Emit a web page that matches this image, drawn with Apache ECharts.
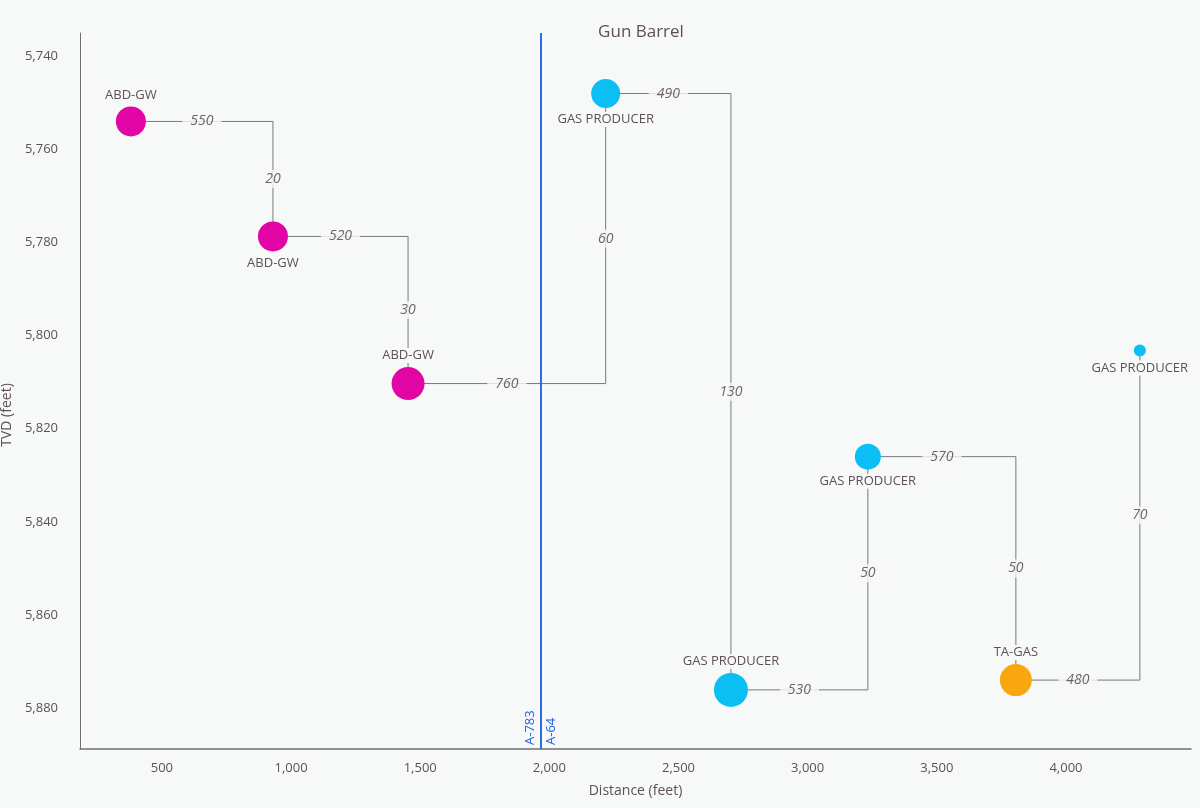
<!DOCTYPE html>
<html>
<head>
<meta charset="utf-8">
<script src="https://cdn.jsdelivr.net/npm/echarts@6/dist/echarts.min.js"></script>
<style>
html,body{margin:0;padding:0;background:#f7f8f8;}
#chart{width:1200px;height:808px;}
</style>
</head>
<body>
<div id="chart"></div>
<script>
// ---- data ----
const wellNames = ['ABD-GW','ABD-GW','ABD-GW','GAS PRODUCER','GAS PRODUCER','GAS PRODUCER','TA-GAS','GAS PRODUCER'];
const distance = [380, 930, 1453, 2218, 2703, 3233, 3806, 4286];
const tvd = [5754.0, 5778.7, 5810.3, 5748.0, 5876.1, 5826.0, 5874.0, 5803.2];
const bubbleSize = [30, 30, 33, 29, 34, 26, 32, 12];
const wellType = ['abd','abd','abd','gas','gas','gas','ta','gas'];
const nameLabelPos = ['top','bottom','top','bottom','top','bottom','top','bottom'];
const horizLabels = ['550','520','760','490','530','570','480'];
const vertLabels = ['20','30','60','130','50','50','70'];
const refLineX = 1967;
const refLabelLeft = 'A-783';
const refLabelRight = 'A-64';
const tvdMin = 5735;
const tvdMax = 5888.8;

const typeColor = {abd:'#e205a5', gas:'#0bbff5', ta:'#f9a60f'};
const textColor = '#5e5057';
const bg = '#f7f8f8';
const font = '"Open Sans", "Noto Sans", sans-serif';

// connectors (elbows)
const connectorSeries = [];
const hLabelData = [];
const vLabelData = [];
for (let i = 0; i < distance.length - 1; i++) {
  connectorSeries.push({
    type: 'line',
    data: [[distance[i], tvd[i]], [distance[i+1], tvd[i]], [distance[i+1], tvd[i+1]]],
    symbol: 'none',
    lineStyle: {color: '#737b83', width: 1},
    silent: true, z: 1, animation: false
  });
  hLabelData.push({value: [(distance[i] + distance[i+1]) / 2, tvd[i]], label: {formatter: horizLabels[i]}});
  vLabelData.push({value: [distance[i+1], (tvd[i] + tvd[i+1]) / 2], label: {formatter: vertLabels[i]}});
}

const edgeLabelStyle = {
  show: true, position: 'inside', color: '#4a3d44', fontStyle: 'italic',
  fontSize: 14, fontFamily: font, backgroundColor: bg, padding: [2, 8]
};

const wellData = distance.map((d, i) => ({
  value: [d, tvd[i]],
  symbolSize: bubbleSize[i],
  itemStyle: {color: typeColor[wellType[i]], opacity: 1},
  label: {show: true, position: nameLabelPos[i], formatter: wellNames[i], distance: 4}
}));

const chart = echarts.init(document.getElementById('chart'));
chart.setOption({
  backgroundColor: bg,
  animation: false,
  title: {
    text: 'Gun Barrel', left: 636, top: 19, textAlign: 'center',
    textStyle: {color: textColor, fontSize: 17, fontWeight: 'normal', fontFamily: font}
  },
  grid: {left: 80, right: 9, top: 33, bottom: 59, containLabel: false, outerBoundsMode: 'none'},
  xAxis: {
    type: 'value', min: 183, max: 4484, splitNumber: 9,
    name: 'Distance (feet)', nameLocation: 'middle', nameGap: 35,
    nameTextStyle: {color: textColor, fontSize: 14, fontFamily: font},
    axisLine: {show: true, lineStyle: {color: '#6f6f6f', width: 1.5}},
    axisTick: {show: false}, splitLine: {show: false},
    axisLabel: {
      color: textColor, fontSize: 13, fontFamily: font, margin: 13,
      showMinLabel: false, showMaxLabel: false,
      formatter: v => (v % 500 === 0 ? v.toLocaleString('en-US') : '')
    }
  },
  yAxis: {
    type: 'value', inverse: true, min: tvdMin, max: tvdMax, splitNumber: 8,
    name: 'TVD (feet)', nameLocation: 'middle', nameGap: 62, nameRotate: 90,
    nameTextStyle: {color: textColor, fontSize: 14, fontFamily: font, padding: [0, 48, 0, 0]},
    axisLine: {show: true, lineStyle: {color: '#6f6f6f', width: 1}},
    axisTick: {show: false}, splitLine: {show: false},
    axisLabel: {
      color: textColor, fontSize: 13, fontFamily: font, margin: 22,
      showMinLabel: false, showMaxLabel: false,
      formatter: v => (v % 20 === 0 ? v.toLocaleString('en-US') : '')
    }
  },
  series: [
    ...connectorSeries,
    {
      type: 'scatter', data: hLabelData, symbolSize: 0, silent: true, z: 3,
      label: edgeLabelStyle
    },
    {
      type: 'scatter', data: vLabelData, symbolSize: 0, silent: true, z: 3,
      label: edgeLabelStyle
    },
    {
      type: 'scatter', data: wellData, z: 5,
      itemStyle: {opacity: 1},
      label: {color: textColor, fontSize: 13, fontFamily: font, backgroundColor: bg, padding: [1, 2]}
    },
    {
      type: 'line', data: [], silent: true,
      markLine: {
        symbol: 'none', silent: true,
        lineStyle: {color: '#1e63e6', width: 1.5, type: 'solid'},
        label: {show: true, color: '#1e63e6', fontSize: 13, fontFamily: font, distance: 4},
        data: [
          [{coord: [refLineX, tvdMax], label: {formatter: refLabelLeft, position: 'insideStartTop'}}, {coord: [refLineX, tvdMin]}],
          [{coord: [refLineX, tvdMax], label: {formatter: refLabelRight, position: 'insideStartBottom'}}, {coord: [refLineX, tvdMin]}]
        ]
      }
    }
  ]
});
</script>
</body>
</html>
